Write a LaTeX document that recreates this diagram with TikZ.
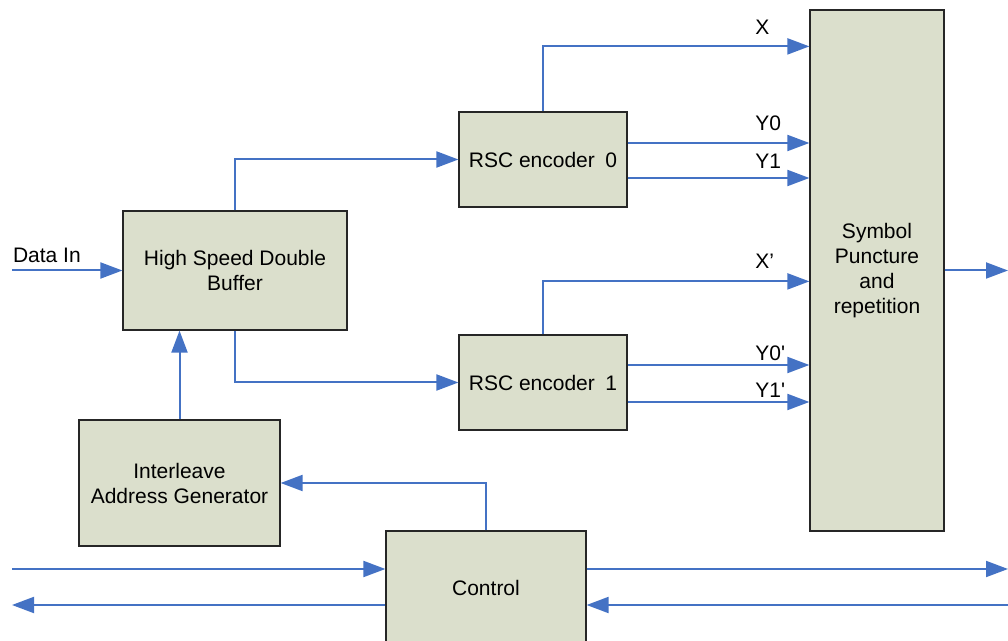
\documentclass[tikz,border=0pt]{standalone}
\usepackage{fontspec}
\setmainfont{Liberation Sans}
\usetikzlibrary{arrows.meta,positioning}
\definecolor{linkblue}{RGB}{68,114,196}
\definecolor{boxfill}{RGB}{219,223,204}

\begin{document}
\begin{tikzpicture}[
    x=0.5pt, y=-0.5pt,
    font=\fontsize{10.5}{12.5}\selectfont,
    block/.style={
        draw=black!85,
        line width=0.6pt,
        fill=boxfill,
        align=center,
        inner sep=0pt
    },
    arrow/.style={-{Triangle[length=11pt,width=8pt]},draw=linkblue,line width=1pt},
    tag/.style={anchor=base west,inner sep=0pt,text=black}
]
\useasboundingbox (0,0) rectangle (1008,641);
\clip (0,0) rectangle (1008,641);

\node[block, minimum width=112pt, minimum height=59.5pt] (buffer) at (235,270.5) {High Speed Double\\Buffer};
\node[block, minimum width=84pt, minimum height=47.5pt] (rsc0) at (543,159.5) {RSC encoder\enspace 0};
\node[block, minimum width=84pt, minimum height=47.5pt] (rsc1) at (543,382.5) {RSC encoder\enspace 1};
\node[block, minimum width=67pt, minimum height=260.5pt] (sym) at (877,270.5) {Symbol\\Puncture\\and\\repetition};
\node[block, minimum width=100.5pt, minimum height=63pt] (ileave) at (179.5,483) {Interleave\\Address Generator};
\node[block, minimum width=100pt, minimum height=57pt] (ctrl) at (486,588) {Control};

\coordinate (datain) at (12,270.5);
\coordinate (symout) at (1008,270.5);
\coordinate (ctlinL) at (12,569);
\coordinate (ctloutL) at (12,605);
\coordinate (ctloutR) at (1008,569);
\coordinate (ctlinR) at (1008,605);

\draw[arrow] (datain) node[tag, yshift=4pt]{Data In} -- (buffer.west);
\draw[arrow] (buffer.north) |- (rsc0.west);
\draw[arrow] (buffer.south) |- (rsc1.west);
\draw[arrow] (ileave.north) -- (ileave.north |- buffer.south);

\draw[arrow] (rsc0.north) |- ([yshift=-18.5pt]sym.north west)
    node[tag, xshift=-27.5pt, yshift=6pt]{X};
\draw[arrow] ([yshift=8.25pt]rsc0.east) -- ([yshift=8.25pt]rsc0.east -| sym.west)
    node[tag, xshift=-27.5pt, yshift=6pt]{Y0};
\draw[arrow] ([yshift=-9.25pt]rsc0.east) -- ([yshift=-9.25pt]rsc0.east -| sym.west)
    node[tag, xshift=-27.5pt, yshift=4.5pt]{Y1};

\draw[arrow] (rsc1.north) |- ([yshift=-136pt]sym.north west)
    node[tag, xshift=-27.5pt, yshift=6.5pt]{X’};
\draw[arrow] ([yshift=8.75pt]rsc1.east) -- ([yshift=8.75pt]rsc1.east -| sym.west)
    node[tag, xshift=-27.5pt, yshift=2pt]{Y0\textquotesingle};
\draw[arrow] ([yshift=-9.75pt]rsc1.east) -- ([yshift=-9.75pt]rsc1.east -| sym.west)
    node[tag, xshift=-27.5pt, yshift=2pt]{Y1\textquotesingle};

\draw[arrow] (sym.east) -- (symout);
\draw[arrow] (ctrl.north) |- (ileave.east);

\draw[arrow] (ctlinL) -- (ctlinL -| ctrl.west);
\draw[arrow] (ctrl.west |- ctloutL) -- (ctloutL);
\draw[arrow] (ctrl.east |- ctloutR) -- (ctloutR);
\draw[arrow] (ctlinR) -- (ctlinR -| ctrl.east);

\end{tikzpicture}
\end{document}
